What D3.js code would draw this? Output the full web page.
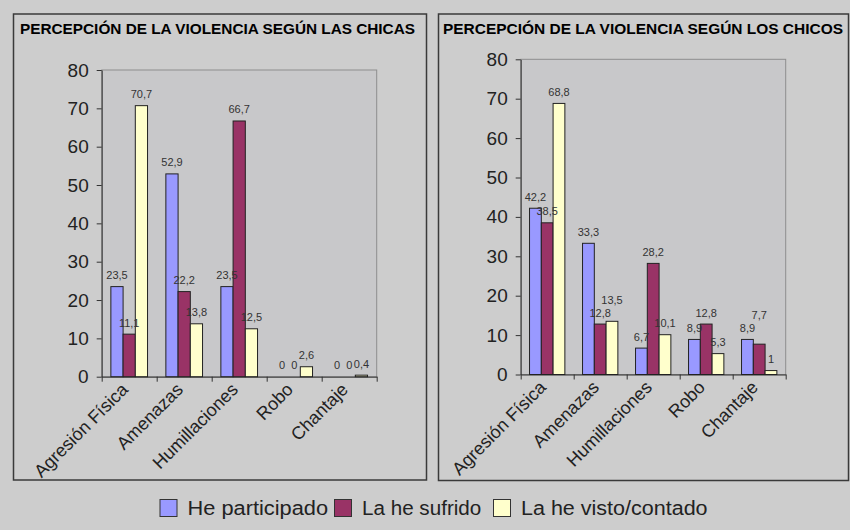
<!DOCTYPE html>
<html>
<head>
<meta charset="utf-8">
<script src="https://cdn.jsdelivr.net/npm/d3@7"></script>
<style>
  body { margin: 0; background: #cdcdcd; }
  svg { display: block; }
</style>
</head>
<body>
<script>
'use strict';

// data
const categories = ["Agresión Física", "Amenazas", "Humillaciones", "Robo", "Chantaje"];
const seriesNames = ["He participado", "La he sufrido", "La he visto/contado"];
const seriesColors = ["#9999ff", "#993366", "#ffffcc"];

const chicasParticipado = [23.5, 52.9, 23.5, 0, 0];
const chicasSufrido = [11.1, 22.2, 66.7, 0, 0];
const chicasVisto = [70.7, 13.8, 12.5, 2.6, 0.4];

const chicosParticipado = [42.2, 33.3, 6.7, 8.9, 8.9];
const chicosSufrido = [38.5, 12.8, 28.2, 12.8, 7.7];
const chicosVisto = [68.8, 13.5, 10.1, 5.3, 1];

const yTicks = [0, 10, 20, 30, 40, 50, 60, 70, 80];

const titles = ["PERCEPCIÓN DE LA VIOLENCIA SEGÚN LAS CHICAS", "PERCEPCIÓN DE LA VIOLENCIA SEGÚN LOS CHICOS"];

const font = "'Liberation Sans', Arial, sans-serif";

let svg = d3.select("body").append("svg")
  .attr("width", 850)
  .attr("height", 530);

svg.append("rect")
  .attr("width", 850).attr("height", 530)
  .attr("fill", "#cdcdcd");

// panel layout (frame + plot area)
let panels = [
  { title: titles[0], values: [chicasParticipado, chicasSufrido, chicasVisto],
    frame: {x: 13.5, y: 14, w: 413, h: 466}, titleX: 20, titleW: 395,
    plot: {left: 101.7, right: 376.7, top: 70, bottom: 376.7} },
  { title: titles[1], values: [chicosParticipado, chicosSufrido, chicosVisto],
    frame: {x: 438.5, y: 14, w: 410, h: 466.5}, titleX: 443, titleW: 400,
    plot: {left: 520.7, right: 785.7, top: 59.3, bottom: 374.5} }
];

function fmt(v) {
  return String(v).replace(".", ",");
}

panels.forEach(drawPanel);
drawLegend();

function drawPanel(p) {
  let g = svg.append("g");

  // outer frame
  g.append("rect")
    .attr("x", p.frame.x).attr("y", p.frame.y)
    .attr("width", p.frame.w).attr("height", p.frame.h)
    .attr("fill", "#cdcdcd")
    .attr("stroke", "#3a3a3a")
    .attr("stroke-width", 1.5);

  g.append("text")
    .attr("x", p.titleX)
    .attr("y", 34.3)
    .attr("textLength", p.titleW)
    .attr("lengthAdjust", "spacingAndGlyphs")
    .style("font-family", font)
    .style("font-weight", "bold")
    .style("font-size", "15px")
    .attr("fill", "#000")
    .text(p.title);

  let pl = p.plot;

  // plot area
  g.append("rect")
    .attr("x", pl.left).attr("y", pl.top)
    .attr("width", pl.right - pl.left).attr("height", pl.bottom - pl.top)
    .attr("fill", "#c8c8ca")
    .attr("stroke", "#8e8e8e")
    .attr("stroke-width", 1);

  // scales
  let x = d3.scaleBand()
    .domain(categories)
    .range([pl.left, pl.right])
    .paddingInner(1 / 3)
    .paddingOuter(1 / 6);

  let xSub = d3.scaleBand()
    .domain(seriesNames)
    .range([0, x.bandwidth()]);

  let y = d3.scaleLinear()
    .domain([0, 80])
    .range([pl.bottom, pl.top]);

  // boundary ticks on the category axis
  let xIdx = d3.scaleLinear()
    .domain([0, categories.length])
    .range([pl.left, pl.right]);

  let xAxis = g.append("g")
    .attr("transform", "translate(0," + pl.bottom + ")")
    .call(d3.axisBottom(xIdx).ticks(categories.length).tickSize(5).tickSizeOuter(0).tickFormat(""));
  xAxis.select(".domain").attr("stroke", "#333");
  xAxis.selectAll(".tick line").attr("stroke", "#333");

  let yAxis = g.append("g")
    .attr("transform", "translate(" + pl.left + ",0)")
    .call(d3.axisLeft(y).tickValues(yTicks).tickSize(5).tickSizeOuter(0).tickPadding(8));
  yAxis.select(".domain").attr("stroke", "#333");
  yAxis.selectAll(".tick line").attr("stroke", "#333");
  yAxis.selectAll(".tick text")
    .style("font-family", font)
    .style("font-size", "19px")
    .attr("fill", "#222");

  // bars first, so every value label sits on top
  p.values.forEach((vals, si) => {
    let name = seriesNames[si];
    g.selectAll(".bar" + si)
      .data(vals)
      .enter()
      .append("rect")
        .attr("x", (d, i) => x(categories[i]) + xSub(name))
        .attr("y", (d) => y(d))
        .attr("width", xSub.bandwidth())
        .attr("height", (d) => y(0) - y(d))
        .attr("fill", seriesColors[si])
        .attr("stroke", (d) => d > 0 ? "#222" : "none")
        .attr("stroke-width", 1);
  });

  let labelG = g.append("g");
  categories.forEach((cat, ci) => {
    let prev = null;
    seriesNames.forEach((name, si) => {
      let v = p.values[si][ci];
      let t = labelG.append("text")
        .attr("x", x(cat) + xSub(name) + xSub.bandwidth() / 2)
        .attr("y", y(v) - 7.5)
        .attr("text-anchor", "middle")
        .style("font-family", font)
        .style("font-size", "11px")
        .attr("fill", "#333")
        .text(fmt(v));
      // push a label up when it runs into the one before it
      let b = t.node().getBBox();
      if (prev && b.x < prev.x + prev.width && prev.x < b.x + b.width &&
          b.y < prev.y + prev.height && prev.y < b.y + b.height) {
        let shift = (b.y + b.height) - prev.y + 0.5;
        t.attr("y", +t.attr("y") - shift);
        b = t.node().getBBox();
      }
      prev = b;
    });
  });

  // rotated category labels
  g.selectAll(".cat")
    .data(categories)
    .enter()
    .append("text")
      .attr("transform", (d) => "translate(" + (x(d) + x.bandwidth() / 2) + "," + (pl.bottom + 14) + ")rotate(-45)")
      .attr("text-anchor", "end")
      .style("font-family", font)
      .style("font-size", "18px")
      .attr("fill", "#222")
      .text((d) => d);
}

function drawLegend() {
  let boxX = [160, 334.5, 493.5];
  let textW = [140.6, 119.3, 186.6];
  let lg = svg.append("g");
  seriesNames.forEach((name, i) => {
    lg.append("rect")
      .attr("x", boxX[i]).attr("y", 499.5)
      .attr("width", 17).attr("height", 17)
      .attr("fill", seriesColors[i])
      .attr("stroke", "#333")
      .attr("stroke-width", 1);
    lg.append("text")
      .attr("x", boxX[i] + 27.5)
      .attr("y", 514.5)
      .attr("textLength", textW[i])
      .attr("lengthAdjust", "spacingAndGlyphs")
      .style("font-family", font)
      .style("font-size", "20px")
      .attr("fill", "#222")
      .text(name);
  });
}
</script>
</body>
</html>
